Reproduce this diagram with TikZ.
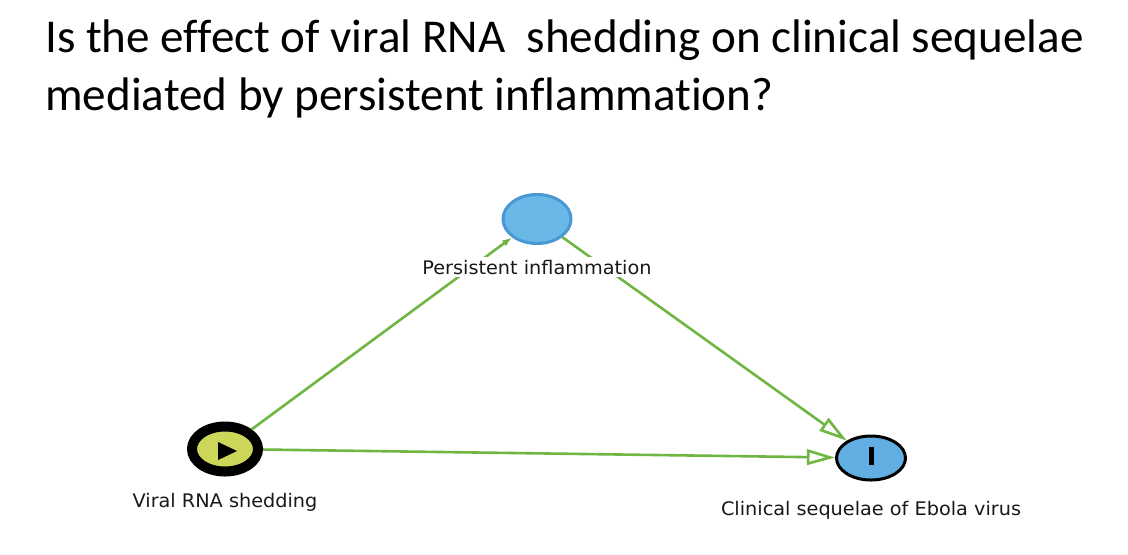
\documentclass[tikz,border=0pt]{standalone}
\usepackage{fontspec}
\usepackage{tikz}
\usetikzlibrary{positioning}
\usetikzlibrary{arrows.meta,shapes.geometric}

\newfontfamily\titlefont[Ligatures=NoCommon]{Carlito}
\newfontfamily\labelfont[FakeStretch=1.03]{DejaVu Sans}

\definecolor{edgegreen}{RGB}{112,182,66}
\definecolor{exposurefill}{RGB}{204,214,88}
\definecolor{outcomefill}{RGB}{96,174,226}
\definecolor{mediatorfill}{RGB}{106,184,232}
\definecolor{mediatorline}{RGB}{72,152,212}

\begin{document}
\begin{tikzpicture}[x=0.025cm,y=-0.025cm,
	varnode/.style={ellipse,inner sep=0pt},
	vartext/.style={font=\labelfont\fontsize{13.3}{16}\selectfont,text=black!90,fill=white,inner sep=2pt},
	titletext/.style={font=\titlefont\fontsize{33.5}{40}\selectfont,anchor=base west,inner sep=0pt},
	causal/.style={draw=edgegreen,line width=0.065cm}]
	\useasboundingbox[fill=white] (0,0) rectangle (1128,554);

	\node[titletext] (title1) at (45,52) {Is the effect of viral RNA\ \ shedding on clinical sequelae};
	\node[titletext] (title2) at (45,110) {mediated by persistent inflammation?};

	\node[varnode,draw=black,line width=0.25cm,fill=exposurefill,minimum width=1.65cm,minimum height=1.125cm] (viral) at (225,449) {};
	\node[varnode,draw=mediatorline,line width=0.075cm,fill=mediatorfill,minimum width=1.7cm,minimum height=1.225cm] (inflam) at (537,219) {};
	\node[varnode,draw=black,line width=0.075cm,fill=outcomefill,minimum width=1.725cm,minimum height=1.1cm] (clinical) at (871,458) {};
	\fill ([shift={(-7,-7)}]viral.center) -- ([shift={(-7,11)}]viral.center) -- ([shift={(12,2)}]viral.center) -- cycle;
	\fill ([shift={(-2.5,-11)}]clinical.center) rectangle ([shift={(2.5,7)}]clinical.center);

	\draw[causal,-{Latex[open,length=7pt,width=5pt]}] (viral) -- (inflam);
	\draw[causal,-{Triangle[open,length=20pt,width=11pt]}] (inflam) -- (clinical);
	\draw[causal,-{Triangle[open,length=20pt,width=11pt]}] (viral) -- (clinical);

	\node[vartext,below=0.3cm of inflam] (inflamtxt) {Persistent inflammation};
	\node[vartext,below=0.34cm of viral] (viraltxt) {Viral RNA shedding};
	\node[vartext,below=0.41cm of clinical] (clinicaltxt) {Clinical sequelae of Ebola virus};
\end{tikzpicture}
\end{document}
